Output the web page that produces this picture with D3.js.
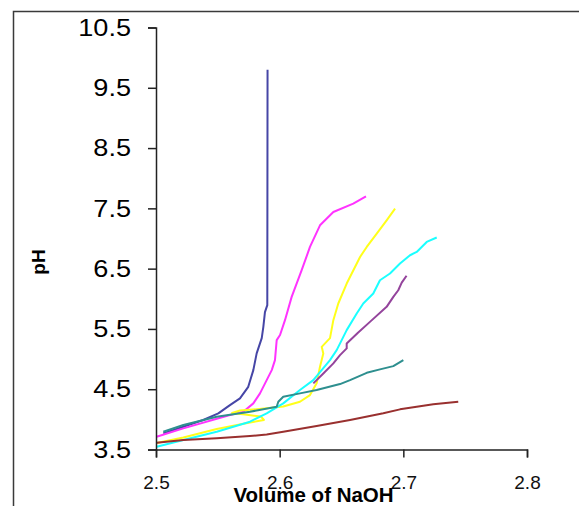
<!DOCTYPE html>
<html>
<head>
<meta charset="utf-8">
<script src="https://cdn.jsdelivr.net/npm/d3@7"></script>
<style>
  html, body { margin: 0; padding: 0; background: #fff; }
  svg { display: block; }
</style>
</head>
<body>
<svg id="chart" width="579" height="506"></svg>
<script>
// ---- Data ----
const xTicks = [2.5, 2.6, 2.7, 2.8];
const yTicks = [3.5, 4.5, 5.5, 6.5, 7.5, 8.5, 9.5, 10.5];
const xLabel = "Volume of NaOH";
const yLabel = "pH";

const seriesNames = ["blue", "magenta", "yellow", "cyan", "purple", "teal", "darkred"];
const seriesColors = ["#4646a6", "#ff33ff", "#ffff1a", "#1affff", "#94449c", "#2e8f8f", "#99302f"];

const blueX = [2.5059, 2.5221, 2.5382, 2.5504, 2.5598, 2.5679, 2.5746, 2.5787, 2.5814, 2.5855, 2.5868, 2.5881, 2.5900, 2.5902];
const blueY = [3.768, 3.878, 3.989, 4.100, 4.237, 4.348, 4.540, 4.817, 5.094, 5.347, 5.535, 5.778, 5.894, 9.80];

const magentaX = [2.5005, 2.5221, 2.5598, 2.5706, 2.5787, 2.5841, 2.5895, 2.5936, 2.5962, 2.5976, 2.6003, 2.6043, 2.6097, 2.6178, 2.6245, 2.6326, 2.6434, 2.6595, 2.6698];
const magentaY = [3.712, 3.851, 4.072, 4.126, 4.265, 4.431, 4.651, 4.817, 4.983, 5.314, 5.400, 5.645, 6.032, 6.474, 6.860, 7.219, 7.440, 7.579, 7.700];

const yellowX = [2.5006, 2.5221, 2.5491, 2.5760, 2.5873, 2.5849, 2.5720, 2.5615, 2.5679, 2.5895, 2.6029, 2.6164, 2.6245, 2.6299, 2.6326, 2.6353, 2.6340, 2.6407, 2.6434, 2.6474, 2.6542, 2.6650, 2.6704, 2.6785, 2.6865, 2.6933];
const yellowY = [3.608, 3.699, 3.840, 3.947, 3.989, 4.047, 4.080, 4.105, 4.146, 4.183, 4.212, 4.292, 4.403, 4.597, 4.872, 5.094, 5.203, 5.347, 5.645, 5.922, 6.253, 6.694, 6.860, 7.082, 7.302, 7.496];

const cyanX = [2.5006, 2.5221, 2.5491, 2.5760, 2.5895, 2.6029, 2.6164, 2.6272, 2.6407, 2.6461, 2.6542, 2.6623, 2.6676, 2.6757, 2.6811, 2.6892, 2.6973, 2.7054, 2.7108, 2.7189, 2.7270];
const cyanY = [3.546, 3.657, 3.795, 3.961, 4.100, 4.265, 4.486, 4.651, 4.983, 5.148, 5.480, 5.756, 5.922, 6.088, 6.308, 6.419, 6.585, 6.722, 6.777, 6.943, 7.016];

const purpleX = [2.6272, 2.6353, 2.6434, 2.6488, 2.6542, 2.6542, 2.6633, 2.6730, 2.6865, 2.6919, 2.6959, 2.6987, 2.7026];
const purpleY = [4.597, 4.762, 4.928, 5.066, 5.177, 5.259, 5.438, 5.617, 5.866, 6.032, 6.142, 6.267, 6.383];

const tealX = [2.5059, 2.5221, 2.5491, 2.5760, 2.5976, 2.5989, 2.6029, 2.6164, 2.6299, 2.6488, 2.6569, 2.6704, 2.6811, 2.6919, 2.7000];
const tealY = [3.795, 3.906, 4.043, 4.126, 4.209, 4.292, 4.375, 4.431, 4.486, 4.585, 4.651, 4.772, 4.829, 4.883, 4.983];

const darkredX = [2.5006, 2.5221, 2.5491, 2.5760, 2.5895, 2.6029, 2.6299, 2.6569, 2.6838, 2.6973, 2.7108, 2.7242, 2.7444];
const darkredY = [3.613, 3.657, 3.686, 3.724, 3.749, 3.795, 3.889, 3.989, 4.100, 4.166, 4.209, 4.249, 4.292];

const seriesX = [blueX, magentaX, yellowX, cyanX, purpleX, tealX, darkredX];
const seriesY = [blueY, magentaY, yellowY, cyanY, purpleY, tealY, darkredY];

// ---- Drawing ----
const svg = d3.select("#chart");

// outer frame
svg.append("rect")
  .attr("x", 13.5).attr("y", 11.5)
  .attr("width", 700).attr("height", 700)
  .attr("fill", "none").attr("stroke", "#3a3a3a").attr("stroke-width", 1.5);

const x = d3.scaleLinear().domain([2.5, 2.8]).range([156, 527]);
const y = d3.scaleLinear().domain([3.5, 10.5]).range([449.5, 27.5]);

// lines
const line = d3.line().x(d => x(d[0])).y(d => y(d[1]));
seriesNames.forEach((name, i) => {
  const pts = seriesX[i].map((v, j) => [v, seriesY[i][j]]);
  svg.append("path")
    .datum(pts)
    .attr("d", line)
    .attr("fill", "none")
    .attr("stroke", seriesColors[i])
    .attr("stroke-width", 2)
    .attr("stroke-linejoin", "round");
});

// y axis
const yAxis = svg.append("g")
  .attr("transform", "translate(156,0)")
  .call(d3.axisLeft(y).tickValues(yTicks).tickFormat(d3.format(".1f")).tickSize(8).tickPadding(17));
yAxis.select(".domain").attr("stroke", "#222").attr("stroke-width", 1.5);
yAxis.selectAll(".tick line").attr("stroke", "#222").attr("stroke-width", 1.5);
yAxis.selectAll(".tick text")
  .attr("fill", "#000")
  .style("font-family", "'Liberation Sans', Arial, sans-serif")
  .style("font-size", "24px")
  .attr("transform", "translate(-25,0) scale(1.13,1) translate(25,0)");

// x axis
const xAxis = svg.append("g")
  .attr("transform", "translate(0,449.5)")
  .call(d3.axisBottom(x).tickValues(xTicks).tickFormat(d3.format(".1f")).tickSize(8).tickPadding(18));
xAxis.select(".domain").attr("stroke", "#222").attr("stroke-width", 1.5);
xAxis.selectAll(".tick line").attr("stroke", "#222").attr("stroke-width", 1.5);
xAxis.selectAll(".tick text")
  .attr("fill", "#111")
  .style("font-family", "'Liberation Sans', Arial, sans-serif")
  .style("font-size", "19px");

// axis titles
svg.append("text")
  .attr("x", 313.5).attr("y", 502)
  .attr("text-anchor", "middle")
  .style("font-family", "'Liberation Sans', Arial, sans-serif")
  .style("font-weight", "bold")
  .style("font-size", "20.5px")
  .attr("fill", "#000")
  .text(xLabel);

svg.append("text")
  .attr("transform", "translate(45,262) rotate(-90)")
  .attr("text-anchor", "middle")
  .style("font-family", "'Liberation Sans', Arial, sans-serif")
  .style("font-weight", "bold")
  .style("font-size", "19px")
  .attr("fill", "#000")
  .text(yLabel);
</script>
</body>
</html>
